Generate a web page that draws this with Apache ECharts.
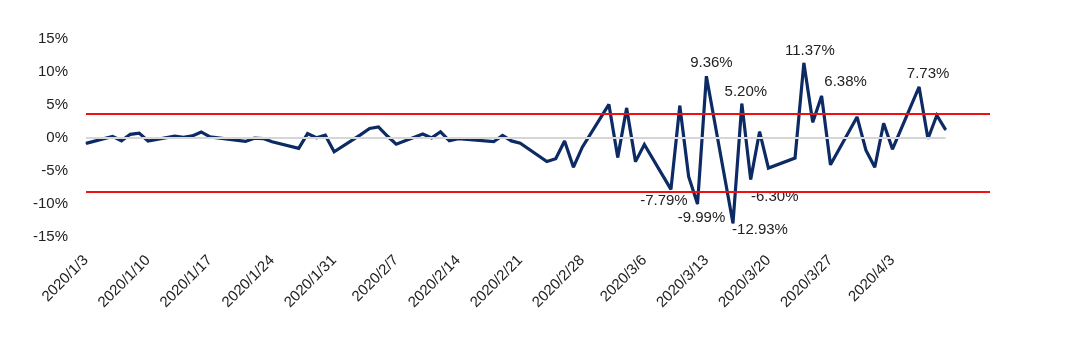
<!DOCTYPE html>
<html>
<head>
<meta charset="utf-8">
<script src="https://cdn.jsdelivr.net/npm/echarts@6/dist/echarts.min.js"></script>
<style>
html,body{margin:0;padding:0;background:#fff;}
#chart{width:1080px;height:338px;}
</style>
</head>
<body>
<div id="chart"></div>
<script>
// Trading days and daily returns (%)
const tradeDates = [
 "2020/1/3","2020/1/6","2020/1/7","2020/1/8","2020/1/9","2020/1/10",
 "2020/1/13","2020/1/14","2020/1/15","2020/1/16","2020/1/17",
 "2020/1/21","2020/1/22","2020/1/23","2020/1/24",
 "2020/1/27","2020/1/28","2020/1/29","2020/1/30","2020/1/31",
 "2020/2/3","2020/2/4","2020/2/5","2020/2/6","2020/2/7",
 "2020/2/10","2020/2/11","2020/2/12","2020/2/13","2020/2/14",
 "2020/2/18","2020/2/19","2020/2/20","2020/2/21",
 "2020/2/24","2020/2/25","2020/2/26","2020/2/27","2020/2/28",
 "2020/3/2","2020/3/3","2020/3/4","2020/3/5","2020/3/6",
 "2020/3/9","2020/3/10","2020/3/11","2020/3/12","2020/3/13",
 "2020/3/16","2020/3/17","2020/3/18","2020/3/19","2020/3/20",
 "2020/3/23","2020/3/24","2020/3/25","2020/3/26","2020/3/27",
 "2020/3/30","2020/3/31","2020/4/1","2020/4/2","2020/4/3",
 "2020/4/6","2020/4/7","2020/4/8","2020/4/9"
];
const returns = [
 -0.81, 0.24, -0.42, 0.56, 0.74, -0.46,
 0.29, 0.11, 0.31, 0.92, 0.17,
 -0.52, -0.03, -0.09, -0.58,
 -1.57, 0.66, 0.04, 0.43, -2.09,
 0.51, 1.44, 1.68, 0.30, -0.94,
 0.60, 0.02, 0.94, -0.43, -0.09,
 -0.56, 0.40, -0.44, -0.78,
 -3.56, -3.15, -0.46, -4.42, -1.39,
 5.09, -2.94, 4.53, -3.58, -0.98,
 -7.79, 4.89, -5.86, -9.99, 9.36,
 -12.93, 5.20, -6.30, 0.95, -4.55,
 -3.04, 11.37, 2.39, 6.38, -4.06,
 3.19, -1.84, -4.44, 2.24, -1.69,
 7.73, -0.12, 3.44, 1.22
];
// Band lines (%)
const upperBand = 3.6;
const lowerBand = -8.2;
// Axis range and tick labels
const axisStart = "2020/1/3";
const axisEnd = "2020/4/14";
const tickLabels = ["2020/1/3","2020/1/10","2020/1/17","2020/1/24","2020/1/31","2020/2/7","2020/2/14","2020/2/21","2020/2/28","2020/3/6","2020/3/13","2020/3/20","2020/3/27","2020/4/3"];
const labeledDates = ["2020/3/9","2020/3/12","2020/3/13","2020/3/16","2020/3/17","2020/3/18","2020/3/24","2020/3/26","2020/4/6"];

// build calendar categories
function fmt(d){return d.getFullYear()+"/"+(d.getMonth()+1)+"/"+d.getDate();}
function parse(s){const p=s.split("/").map(Number);return new Date(p[0],p[1]-1,p[2]);}
const categories=[];
for(let d=parse(axisStart); d<=parse(axisEnd); d.setDate(d.getDate()+1)) categories.push(fmt(d));

const labelStyle = {
  "2020/3/9":  {position:"bottom", offset:[-7,-2]},
  "2020/3/12": {position:"bottom", offset:[4,1]},
  "2020/3/13": {position:"top", offset:[5,0]},
  "2020/3/16": {position:"bottom", offset:[27,-6]},
  "2020/3/17": {position:"top", offset:[4,1]},
  "2020/3/18": {position:"bottom", offset:[24,4]},
  "2020/3/24": {position:"top", offset:[6,1]},
  "2020/3/26": {position:"top", offset:[24,-1]},
  "2020/4/6":  {position:"top", offset:[9,0]}
};
const valMap={};
tradeDates.forEach((d,i)=>valMap[d]=returns[i]);
const seriesData = categories.map(c=>{
  if(!(c in valMap)) return null;
  const v=valMap[c];
  if(labeledDates.indexOf(c)>=0){
    const ls=labelStyle[c];
    return {value:v,label:{show:true,position:ls.position,offset:ls.offset,distance:5}};
  }
  return v;
});

const chart = echarts.init(document.getElementById('chart'));
chart.setOption({
  animation:false,
  backgroundColor:"#fff",
  grid:{left:86,right:90,top:39,bottom:101,containLabel:false},
  xAxis:{
    type:"category",
    data:categories,
    boundaryGap:false,
    axisLine:{show:false},
    axisTick:{show:false},
    splitLine:{show:false},
    axisLabel:{
      rotate:45,
      margin:21,
      fontSize:15,
      color:"#222",
      fontFamily:"Liberation Sans, Arial, sans-serif",
      interval:(i,v)=>tickLabels.indexOf(v)>=0
    }
  },
  yAxis:{
    type:"value",
    min:-15,max:15,interval:5,
    axisLine:{show:false},
    axisTick:{show:false},
    splitLine:{show:false},
    axisLabel:{formatter:"{value}%",fontSize:15,color:"#222",margin:18,fontFamily:"Liberation Sans, Arial, sans-serif"}
  },
  series:[
    {
      type:"line",
      data:[],
      z:1,
      silent:true,
      markLine:{
        silent:true,symbol:"none",
        label:{show:false},
        lineStyle:{color:"#d6d6d6",width:2,type:"solid"},
        data:[[{coord:[tradeDates[0],0]},{coord:[tradeDates[tradeDates.length-1],0]}]]
      }
    },
    {
      type:"line",
      data:seriesData,
      connectNulls:true,
      showSymbol:true,
      symbol:"circle",
      symbolSize:1,
      itemStyle:{color:"#0c2a63"},
      z:2,
      label:{show:false,fontSize:15,color:"#222",fontFamily:"Liberation Sans, Arial, sans-serif",
        formatter:(p)=>p.value.toFixed(2)+"%"},
      lineStyle:{color:"#0c2a63",width:3.2,join:"miter",miterLimit:2.5},
      emphasis:{disabled:true}
    },
    {
      type:"line",
      data:[],
      z:3,
      silent:true,
      markLine:{
        silent:true,symbol:"none",
        label:{show:false},
        lineStyle:{color:"#ee1111",width:1.8,type:"solid"},
        data:[{yAxis:upperBand},{yAxis:lowerBand}]
      }
    }
  ]
});
</script>
</body>
</html>
